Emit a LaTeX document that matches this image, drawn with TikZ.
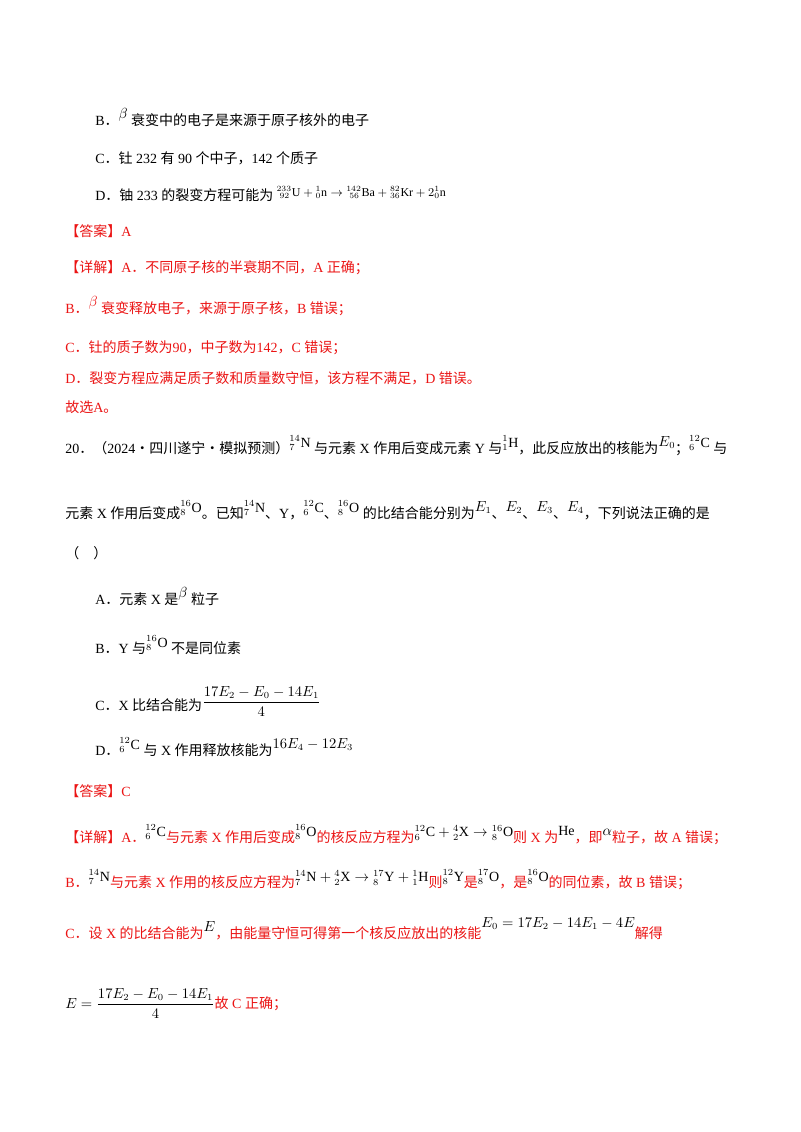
\documentclass[tikz,border=0pt]{standalone}
\usepackage{amsmath}
\usepackage{fontspec}
\setmainfont{Liberation Serif}
\newfontfamily\cjk{Noto Sans CJK SC}
\newcommand{\nuc}[3]{\raisebox{0.9ex}{${}^{#1}_{#2}\mathrm{#3}$}}
\newcommand{\upm}[1]{\raisebox{1.0ex}{$#1$}}
\definecolor{ansred}{RGB}{235,20,20}
\begin{document}
\begin{tikzpicture}[x=0.75pt,y=-0.75pt,
  tx/.style={anchor=base west,inner sep=0pt,font=\fontsize{10.5}{12}\selectfont},
  rd/.style={tx,text=ansred}]
\useasboundingbox (0,0) rectangle (800,1132);
\fill[white] (0,0) rectangle (800,1132);
\node[tx] (b1) at (95,125) {B\cjk ．\rmfamily\upm{\beta} \cjk 衰变中的电子是来源于原子核外的电子};
\node[tx] (c1) at (95,163) {C\cjk ．钍\rmfamily\ 232 \cjk 有\rmfamily\ 90 \cjk 个中子，\rmfamily 142 \cjk 个质子};
\node[tx] (d1) at (95,200) {D\cjk ．铀\rmfamily\ 233 \cjk 的裂变方程可能为 \rmfamily\raisebox{0.6ex}{\small${}^{233}_{\ 92}\mathrm{U}+{}^{1}_{0}\mathrm{n}\to{}^{142}_{\ 56}\mathrm{Ba}+{}^{82}_{36}\mathrm{Kr}+2{}^{1}_{0}\mathrm{n}$}};
\node[rd] (a1) at (65,236) {\cjk 【答案】\rmfamily A};
\node[rd] (x1) at (65,272) {\cjk 【详解】\rmfamily A\cjk ．不同原子核的半衰期不同，\rmfamily A \cjk 正确；};
\node[rd] (x2) at (65,313) {B\cjk ．\rmfamily\upm{\beta} \cjk 衰变释放电子，来源于原子核，\rmfamily B \cjk 错误；};
\node[rd] (x3) at (65,352) {C\cjk ．钍的质子数为\rmfamily 90\cjk ，中子数为\rmfamily 142\cjk ，\rmfamily C \cjk 错误；};
\node[rd] (x4) at (65,383) {D\cjk ．裂变方程应满足质子数和质量数守恒，该方程不满足，\rmfamily D \cjk 错误。};
\node[rd] (x5) at (65,412) {\cjk 故选\rmfamily A\cjk 。};
\node[tx] (q1) at (65,453) {20\cjk ．（\rmfamily 2024\cjk ·四川遂宁·模拟预测）\rmfamily\nuc{14}{7}{N} \cjk 与元素\rmfamily\ X \cjk 作用后变成元素\rmfamily\ Y \cjk 与\rmfamily\nuc{1}{1}{H}\cjk ，此反应放出的核能为\rmfamily\upm{E_0}\cjk ；\rmfamily\nuc{12}{6}{C} \cjk 与};
\node[tx] (q2) at (65,518) {\cjk 元素\rmfamily\ X \cjk 作用后变成\rmfamily\nuc{16}{8}{O}\cjk 。已知\rmfamily\nuc{14}{7}{N}\cjk 、\rmfamily Y\cjk ，\rmfamily\nuc{12}{6}{C}\cjk 、\rmfamily\nuc{16}{8}{O} \cjk 的比结合能分别为\rmfamily\upm{E_1}\cjk 、\rmfamily\upm{E_2}\cjk 、\rmfamily\upm{E_3}\cjk 、\rmfamily\upm{E_4}\cjk ，下列说法正确的是};
\node[tx] (q3) at (65,558) {\cjk （\quad ）};
\node[tx] (oa) at (95,604) {A\cjk ．元素\rmfamily\ X \cjk 是\rmfamily\upm{\beta} \cjk 粒子};
\node[tx] (ob) at (95,653) {B\cjk ．\rmfamily Y \cjk 与\rmfamily\nuc{16}{8}{O} \cjk 不是同位素};
\node[tx] (oc) at (95,710) {C\cjk ．\rmfamily X \cjk 比结合能为\rmfamily\raisebox{0.6ex}{$\dfrac{17E_2-E_0-14E_1}{4}$}};
\node[tx] (od) at (95,755) {D\cjk ．\rmfamily\nuc{12}{6}{C} \cjk 与\rmfamily\ X \cjk 作用释放核能为\rmfamily\upm{16E_4-12E_3}};
\node[rd] (a2) at (65,796) {\cjk 【答案】\rmfamily C};
\node[rd] (y1) at (65,842) {\cjk 【详解】\rmfamily A\cjk ．\color{black}\rmfamily\nuc{12}{6}{C}\color{ansred}\cjk 与元素\rmfamily\ X \cjk 作用后变成\color{black}\rmfamily\nuc{16}{8}{O}\color{ansred}\cjk 的核反应方程为\color{black}\rmfamily\raisebox{0.8ex}{${}^{12}_{6}\mathrm{C}+{}^{4}_{2}\mathrm{X}\to{}^{16}_{8}\mathrm{O}$}\color{ansred}\cjk 则\rmfamily\ X \cjk 为\color{black}\rmfamily\raisebox{1ex}{He}\color{ansred}\cjk ，即\color{black}\rmfamily\upm{\alpha}\color{ansred}\cjk 粒子，故\rmfamily\ A \cjk 错误；};
\node[rd] (y2) at (65,887) {B\cjk ．\color{black}\rmfamily\nuc{14}{7}{N}\color{ansred}\cjk 与元素\rmfamily\ X \cjk 作用的核反应方程为\color{black}\rmfamily\raisebox{0.8ex}{${}^{14}_{7}\mathrm{N}+{}^{4}_{2}\mathrm{X}\to{}^{17}_{8}\mathrm{Y}+{}^{1}_{1}\mathrm{H}$}\color{ansred}\cjk 则\color{black}\rmfamily\nuc{12}{8}{Y}\color{ansred}\cjk 是\color{black}\rmfamily\nuc{17}{8}{O}\color{ansred}\cjk ，是\color{black}\rmfamily\nuc{16}{8}{O}\color{ansred}\cjk 的同位素，故\rmfamily\ B \cjk 错误；};
\node[rd] (y3) at (65,938) {C\cjk ．设\rmfamily\ X \cjk 的比结合能为\color{black}\rmfamily\upm{E}\color{ansred}\cjk ，由能量守恒可得第一个核反应放出的核能\color{black}\rmfamily\raisebox{1.6ex}{$E_0=17E_2-14E_1-4E$}\color{ansred}\cjk 解得};
\node[rd] (y4) at (65,1008) {\color{black}$E=\dfrac{17E_2-E_0-14E_1}{4}$\color{ansred}\cjk 故\rmfamily\ C \cjk 正确；};
\end{tikzpicture}
\end{document}
